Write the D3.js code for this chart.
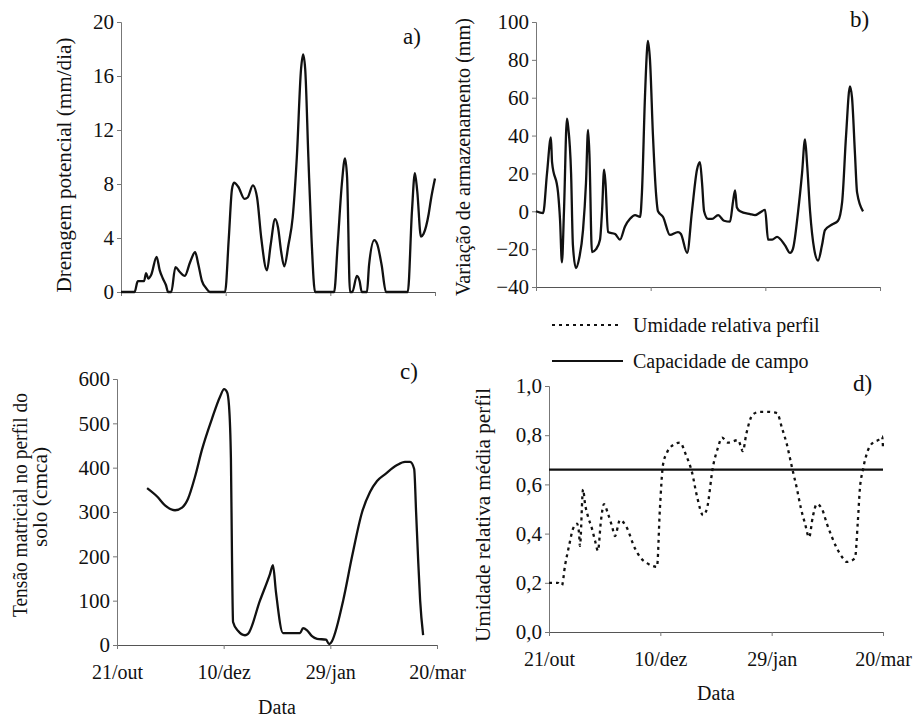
<!DOCTYPE html>
<html><head><meta charset="utf-8">
<script src="https://cdn.jsdelivr.net/npm/d3@7"></script>
<style>
body{margin:0;background:#fff;}
svg{display:block;}
text{font-family:"Liberation Serif","Times New Roman",serif;fill:#111;}
</style></head>
<body>
<svg id="chart" width="918" height="718"></svg>
<script>
// ---- Data (days since 21/out) ----
const tickLabels = ["21/out", "10/dez", "29/jan", "20/mar"];
const tickDays = [0, 50, 100, 150];

// a) Drenagem potencial (mm/dia)
const drenDays = [0,6.5,8,11,12,13,14.5,17,18.5,20,21.5,22.5,24,26,28,30.5,33,35.4,37,38.7,40.6,42.5,49.7,51.5,53,54,56,59,60.5,63,65,67,69.7,71.5,73.6,75,76.5,78,80,82,84,86,87,88,89.5,91,92.7,101.8,103.5,105.5,107,108,109.4,110.5,112.7,114,115,117.5,118.5,121,122.5,124.5,126.6,137,139,140.4,141.5,143.3,144.5,147,148,150];
const drenVals = [0,0,0.8,0.8,1.4,1.0,1.3,2.6,1.6,1.0,0.5,0,0,1.85,1.5,1.2,2.2,2.95,2.0,0.8,0.3,0,0,4,7.6,8.1,7.8,6.9,7.0,7.9,7.0,4.0,1.6,3.5,5.4,4.8,3.0,1.9,3.5,5.5,10,16.5,17.6,16.5,10,4,0,0,3.5,8,9.9,8.5,0,0,1.2,0.8,0,0,2,3.85,3.5,2,0,0,6,8.8,7.5,4.1,4.3,5.8,6.8,8.4];

// b) Variação de armazenamento (mm)
const armDays = [0,3.1,4.8,6.5,7,9.6,10.5,11.3,12.2,13.5,14,15.3,16.1,17.4,18.8,20.5,21.8,22.7,23.3,24.4,26.2,27.9,28.8,29.7,30.3,31.4,34.5,36.6,38.8,41,43.2,45.4,46.2,47.5,48.4,48.8,49.7,51,52.3,53.2,55.4,58.4,61.9,63.2,65.9,68,70.2,71.5,72.4,73.3,75,76.8,79.4,82,84.6,85.9,86.8,87.6,89,93.4,95.5,99.9,101.2,103,105.1,108.6,110.8,112,114.3,116,117.3,118.2,119.5,121.3,123,124.7,126,129.1,131.7,133.5,135.2,136.9,137.8,139.1,140,142.6];
const armVals = [0,-1,20,39,26,10,-5,-27,0,49,45,20,-18,-30,-25,-10,15,43,30,-21.5,-20,-15,0,22,15,-11,-12,-15,-8,-4,-2,-3,10,60,85,90,80,40,10,0,-3,-12.5,-11,-12,-22,0,22,26,15,0,-4,-4,-2,-5,-5.5,5,11,2,0,-1.5,-2,0.7,-15,-15,-13.5,-18,-22,-20,0,20,38,25,0,-20,-26,-18,-10,-7,-5,5,40,66,60,30,10,0];

// c) Tensão matricial no perfil do solo (cmca)
const tensDays = [14.1,18.8,22.5,27.2,30.5,33.3,36.6,39.8,44.5,48.3,50.2,51.6,52.5,53.4,53.9,54.4,56.7,60,61.4,67,71.7,73.1,74.5,77.8,85.8,87.2,89.1,91.4,93.8,98,99.4,100.3,106,110.2,114.9,118.6,121.9,125.6,131.3,135,137.4,139.3,140.2,141.1,142.1,143.5];
const tensVals = [354,335,315,304,310,330,380,440,510,560,577,570,540,420,200,52,32,22,25,100,160,180,120,27,27,38,33,20,14,12,2,5,100,200,300,345,370,385,406,413,413,397,300,199,100,22];

// d) Umidade relativa média perfil
const umidDays = [0,4,5.8,7.2,9,10.8,12.6,13.5,13.9,15.3,16.2,17.5,19.3,20.7,22,23.3,24.7,26.5,28.3,29.6,31.9,34.6,38.6,41.3,44,48.5,49.8,51.2,53,55.7,58.8,61.5,64.2,66.5,69.2,70.9,73.6,75.9,77.7,80.4,84.9,87.1,88.5,91.6,94.7,97.9,102.4,104.6,106.9,109.1,111.4,113.2,115,116.8,118.5,120.3,122.6,124.8,127.1,129.3,131.6,133.8,137.4,138.7,139.6,141,143.3,145.5,147.8,149.6,150];
const umidVals = [0.2,0.2,0.19,0.27,0.35,0.42,0.44,0.4,0.35,0.58,0.52,0.47,0.42,0.37,0.33,0.45,0.52,0.48,0.43,0.39,0.455,0.43,0.34,0.3,0.28,0.265,0.5,0.68,0.73,0.76,0.77,0.72,0.65,0.55,0.475,0.5,0.67,0.75,0.79,0.77,0.78,0.735,0.8,0.885,0.895,0.895,0.89,0.83,0.76,0.67,0.58,0.5,0.44,0.385,0.47,0.52,0.5,0.44,0.385,0.34,0.305,0.285,0.3,0.45,0.58,0.66,0.74,0.77,0.78,0.795,0.75];
const capCampo = 0.66;

const ticksA = [0,4,8,12,16,20];
const ticksB = [-40,-20,0,20,40,60,80,100];
const ticksC = [0,100,200,300,400,500,600];
const ticksD = [0,0.2,0.4,0.6,0.8,1.0];

const svg = d3.select("#chart");
const AX = "#777";

function panel(o){
  const x = d3.scaleLinear().domain([0,150]).range([o.x0,o.x1]);
  const y = d3.scaleLinear().domain(o.ydom).range([o.y0,o.y1]);
  const g = svg.append("g");
  const ya = g.append("g").attr("transform",`translate(${o.x0},0)`)
    .call(d3.axisLeft(y).tickValues(o.yticks).tickSize(4).tickPadding(3).tickFormat(o.fmt));
  ya.select(".domain").attr("stroke",AX);
  ya.selectAll(".tick line").attr("stroke",AX);
  ya.selectAll(".tick text").attr("font-size",21).attr("font-family","Liberation Serif").attr("fill","#111");
  const xa = g.append("g").attr("transform",`translate(0,${o.y0})`)
    .call(d3.axisBottom(x).tickValues(tickDays).tickSize(4).tickPadding(o.xpad||14)
      .tickFormat((d,i)=> o.xlabels ? tickLabels[i] : ""));
  xa.select(".domain").attr("stroke","#555");
  xa.selectAll(".tick line").attr("stroke",AX);
  xa.selectAll(".tick text").attr("font-size",20).attr("font-family","Liberation Serif").attr("fill","#111");
  return {x,y,g};
}

function curveLine(p, days, vals, dash){
  const pts = days.map((d,i)=>[d,vals[i]]);
  const line = d3.line().x(d=>p.x(d[0])).y(d=>p.y(d[1])).curve(d3.curveMonotoneX);
  const path = p.g.append("path").datum(pts).attr("d",line)
    .attr("fill","none").attr("stroke","#111").attr("stroke-width",2.3)
    .attr("stroke-linejoin","round");
  if(dash) path.attr("stroke-dasharray",dash).attr("stroke-linecap","butt");
}

function vtitle(cx, cy, txt, len){
  svg.append("text").attr("transform",`translate(${cx},${cy}) rotate(-90)`)
    .attr("text-anchor","middle").attr("dominant-baseline","central")
    .attr("font-size",20).attr("textLength",len).attr("lengthAdjust","spacingAndGlyphs").text(txt);
}

// a)
const pa = panel({x0:121,x1:435,y0:292,y1:22,ydom:[0,20],yticks:ticksA,fmt:d3.format("d")});
curveLine(pa, drenDays, drenVals);
vtitle(64,165,"Drenagem potencial (mm/dia)",255);
svg.append("text").attr("x",403).attr("y",44).attr("font-size",23).text("a)");

// b)
const pb = panel({x0:536,x1:880,y0:287,y1:22,ydom:[-40,100],yticks:ticksB,fmt:d3.format("d")});
curveLine(pb, armDays, armVals);
vtitle(463,157,"Variação de armazenamento (mm)",278);
svg.append("text").attr("x",850).attr("y",27).attr("font-size",23).text("b)");

// c)
const pc = panel({x0:117,x1:437,y0:645,y1:379,ydom:[0,600],yticks:ticksC,fmt:d3.format("d"),xlabels:true,xpad:16});
curveLine(pc, tensDays, tensVals);
vtitle(20,505,"Tensão matricial no perfil do",224);
vtitle(40,497,"solo (cmca)",100);
svg.append("text").attr("x",400).attr("y",379).attr("font-size",23).text("c)");
svg.append("text").attr("x",277).attr("y",714).attr("text-anchor","middle").attr("font-size",20).text("Data");

// d)
const pd = panel({x0:549,x1:883,y0:632,y1:386,ydom:[0,1],yticks:ticksD,fmt:d=>d3.format(".1f")(d).replace(".",","),xlabels:true,xpad:16});
pd.g.append("line").attr("x1",pd.x(0)).attr("x2",pd.x(150)).attr("y1",pd.y(capCampo)).attr("y2",pd.y(capCampo))
  .attr("stroke","#111").attr("stroke-width",2.3);
curveLine(pd, umidDays, umidVals, "3,4");
vtitle(483,515,"Umidade relativa média perfil",254);
svg.append("text").attr("x",853).attr("y",391).attr("font-size",23).text("d)");
svg.append("text").attr("x",716).attr("y",700).attr("text-anchor","middle").attr("font-size",20).text("Data");

// legend
svg.append("line").attr("x1",552).attr("x2",622).attr("y1",325).attr("y2",325)
  .attr("stroke","#111").attr("stroke-width",2).attr("stroke-dasharray","3,4");
svg.append("text").attr("x",633).attr("y",332).attr("font-size",20).text("Umidade relativa perfil");
svg.append("line").attr("x1",552).attr("x2",623).attr("y1",361).attr("y2",361)
  .attr("stroke","#111").attr("stroke-width",2);
svg.append("text").attr("x",633).attr("y",368).attr("font-size",20).text("Capacidade de campo");
</script>
</body></html>
